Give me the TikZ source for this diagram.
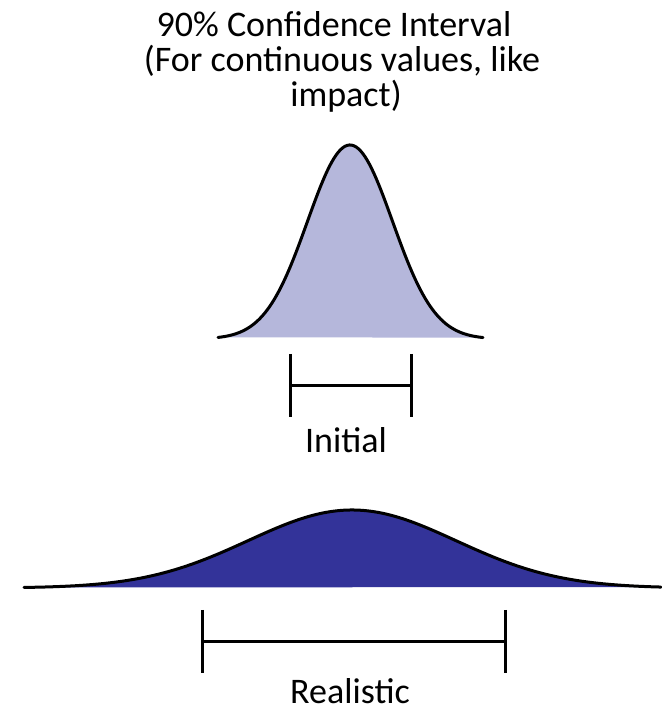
\documentclass[tikz,border=0pt]{standalone}
\usepackage{fontspec}
\setmainfont{Carlito}
\definecolor{lightlav}{RGB}{181,183,219}
\definecolor{darkblue}{RGB}{51,51,153}
\begin{document}
\begin{tikzpicture}[x=1pt,y=1pt,
  curve/.style={line width=3pt,line join=round,line cap=round},
  bar/.style={line width=3pt},
  lbl/.style={font=\fontsize{36}{42}\selectfont,anchor=base,inner sep=0pt,text depth=0pt}]
\useasboundingbox (0,0) rectangle (661,711);
% title
\node[lbl] (t1) at (334,674) {90\% Confidence Interval};
\node[lbl] (t2) at (342,639) {(For continuous values, like};
\node[lbl] (t3) at (346,604) {impact)};
% top distribution
\fill[lightlav] plot[domain=218:483,samples=120] (\x,{372+194*exp(-0.5*((\x-350)/42.5)^2)}) -- cycle;
\draw[curve] plot[domain=218:483,samples=120] (\x,{372+194*exp(-0.5*((\x-350)/42.5)^2)});
% top bracket
\draw[bar] (290,357) -- (290,294);
\draw[bar] (411,357) -- (411,294);
\draw[bar] (290,325) -- (411,325);
\node[lbl] (init) at (346,258) {Initial};
% bottom distribution
\fill[darkblue] plot[domain=24:661,samples=200] (\x,{123+78*exp(-0.5*((\x-352)/104)^2)}) -- cycle;
\draw[curve] plot[domain=24:661,samples=200] (\x,{123+78*exp(-0.5*((\x-352)/104)^2)});
% bottom bracket
\draw[bar] (202,101) -- (202,38);
\draw[bar] (505,101) -- (505,38);
\draw[bar] (202,69) -- (505,69);
\node[lbl] (real) at (350,8) {Realistic};
\end{tikzpicture}
\end{document}
